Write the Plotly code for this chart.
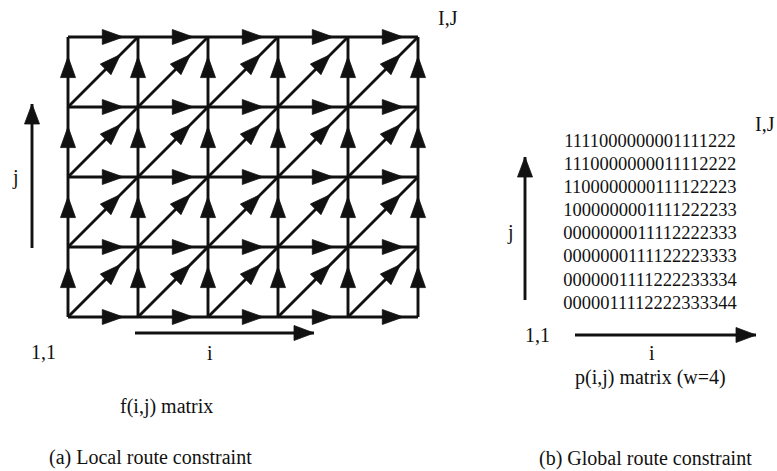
import math
import plotly.graph_objects as go

# ---------------- data ----------------
N_COLS = 5          # cells along i in the local-constraint lattice
N_ROWS = 4          # cells along j
P_MATRIX_ROWS = [   # p(i,j) matrix, top row first
    "1111000000001111222",
    "1110000000011112222",
    "1100000000111122223",
    "1000000001111222233",
    "0000000011112222333",
    "0000000111122223333",
    "0000001111222233334",
    "0000011112222333344",
]
CORNER_END = "I,J"
CORNER_START = "1,1"
AXIS_I = "i"
AXIS_J = "j"
TITLE_F = "f(i,j) matrix"
TITLE_P = "p(i,j) matrix (w=4)"
CAPTION_A = "(a) Local route constraint"
CAPTION_B = "(b) Global route constraint"

# ---------------- style ----------------
W, H = 777, 471
INK = "#111111"
FONT = "Liberation Serif"
LW = 2.9
GRID_PX = (68, 418, 37, 317)   # left, right, top, bottom of lattice in pixels
CELL_PX = (GRID_PX[1] - GRID_PX[0]) / N_COLS
PAD = 0.4                       # axis padding in cell units (avoid clipping)


def head_path(tip, d, length, half):
    tx, ty = tip
    dx, dy = d
    n = math.hypot(dx, dy)
    ux, uy = dx / n, dy / n
    bx, by = tx - ux * length, ty - uy * length
    nx, ny = -uy, ux
    return (f"M{tx},{ty} L{bx + nx * half},{by + ny * half} "
            f"L{bx - nx * half},{by - ny * half} Z")


def add_heads(fig, tips, dirs, length, half, xa, ya):
    for t, d in zip(tips, dirs):
        fig.add_shape(type="path", path=head_path(t, d, length, half),
                      xref=xa, yref=ya, fillcolor=INK,
                      line=dict(color=INK, width=0.8), layer="above")


fig = go.Figure()

# ---------- lattice (grid units on x/y) ----------
lx, ly = [], []
for j in range(N_ROWS + 1):
    lx += [0, N_COLS, None]
    ly += [j, j, None]
for i in range(N_COLS + 1):
    lx += [i, i, None]
    ly += [0, N_ROWS, None]
for i in range(N_COLS):
    for j in range(N_ROWS):
        lx += [i, i + 1, None]
        ly += [j, j + 1, None]
fig.add_trace(go.Scatter(x=lx, y=ly, mode="lines", line=dict(color=INK, width=LW),
                         hoverinfo="skip", xaxis="x", yaxis="y"))

tips, dirs = [], []
for j in range(N_ROWS + 1):
    for i in range(N_COLS):
        tips.append((i + 0.79, j)); dirs.append((1, 0))
for i in range(N_COLS + 1):
    for j in range(N_ROWS):
        tips.append((i, j + 0.72)); dirs.append((0, 1))
for i in range(N_COLS):
    for j in range(N_ROWS):
        tips.append((i + 0.75, j + 0.75)); dirs.append((1, 1))
add_heads(fig, tips, dirs, 21 / CELL_PX, 7.5 / CELL_PX, "x", "y")

# ---------- direction arrows (pixel units on x2/y2) ----------
ARROWS = [  # (x0, y0, x1, y1) start -> tip
    (32, 248, 32, 104),
    (135, 333, 314, 333),
    (525, 300, 525, 157),
    (575, 335, 756, 335),
]
ax_, ay_ = [], []
for x0, y0, x1, y1 in ARROWS:
    ax_ += [x0, x1, None]
    ay_ += [y0, y1, None]
fig.add_trace(go.Scatter(x=ax_, y=ay_, mode="lines", line=dict(color=INK, width=LW),
                         hoverinfo="skip", xaxis="x2", yaxis="y2"))
add_heads(fig, [(a[2], a[3]) for a in ARROWS],
          [(a[2] - a[0], a[3] - a[1]) for a in ARROWS], 20, 7.5, "x2", "y2")

# ---------- p(i,j) matrix ----------
ROW0_Y, ROW_GAP, MAT_X = 142, 23.15, 650
fig.add_trace(go.Scatter(
    x=[MAT_X] * len(P_MATRIX_ROWS),
    y=[ROW0_Y + k * ROW_GAP for k in range(len(P_MATRIX_ROWS))],
    text=P_MATRIX_ROWS, mode="text", textposition="middle center",
    textfont=dict(family=FONT, size=18.5, color=INK),
    hoverinfo="skip", xaxis="x2", yaxis="y2"))

# ---------- labels ----------
LABELS = [
    (CORNER_END, 448, 18), (CORNER_END, 765, 124),
    (AXIS_J, 15, 177), (AXIS_J, 510, 232),
    (CORNER_START, 43, 352), (CORNER_START, 537, 335),
    (AXIS_I, 210, 353), (AXIS_I, 652, 353),
    (TITLE_F, 166, 406), (TITLE_P, 650, 377),
    (CAPTION_A, 150, 457), (CAPTION_B, 645, 458),
]
for txt, x, y in LABELS:
    fig.add_annotation(x=x, y=y, xref="x2", yref="y2", text=txt, showarrow=False,
                       font=dict(family=FONT, size=20, color=INK),
                       xanchor="center", yanchor="middle")

pp = PAD * CELL_PX
hide = dict(visible=False, showgrid=False, zeroline=False, fixedrange=True)
fig.update_layout(
    width=W, height=H, margin=dict(l=0, r=0, t=0, b=0),
    paper_bgcolor="white", plot_bgcolor="rgba(0,0,0,0)", showlegend=False,
    xaxis=dict(domain=[(GRID_PX[0] - pp) / W, (GRID_PX[1] + pp) / W],
               range=[-PAD, N_COLS + PAD], anchor="y", **hide),
    yaxis=dict(domain=[1 - (GRID_PX[3] + pp) / H, 1 - (GRID_PX[2] - pp) / H],
               range=[-PAD, N_ROWS + PAD], anchor="x", **hide),
    xaxis2=dict(domain=[0, 1], range=[0, W], anchor="y2", **hide),
    yaxis2=dict(domain=[0, 1], range=[H, 0], anchor="x2", **hide),
)

fig.write_html("out.html", config={"displayModeBar": False},
               post_script="document.body.style.margin='0';")
